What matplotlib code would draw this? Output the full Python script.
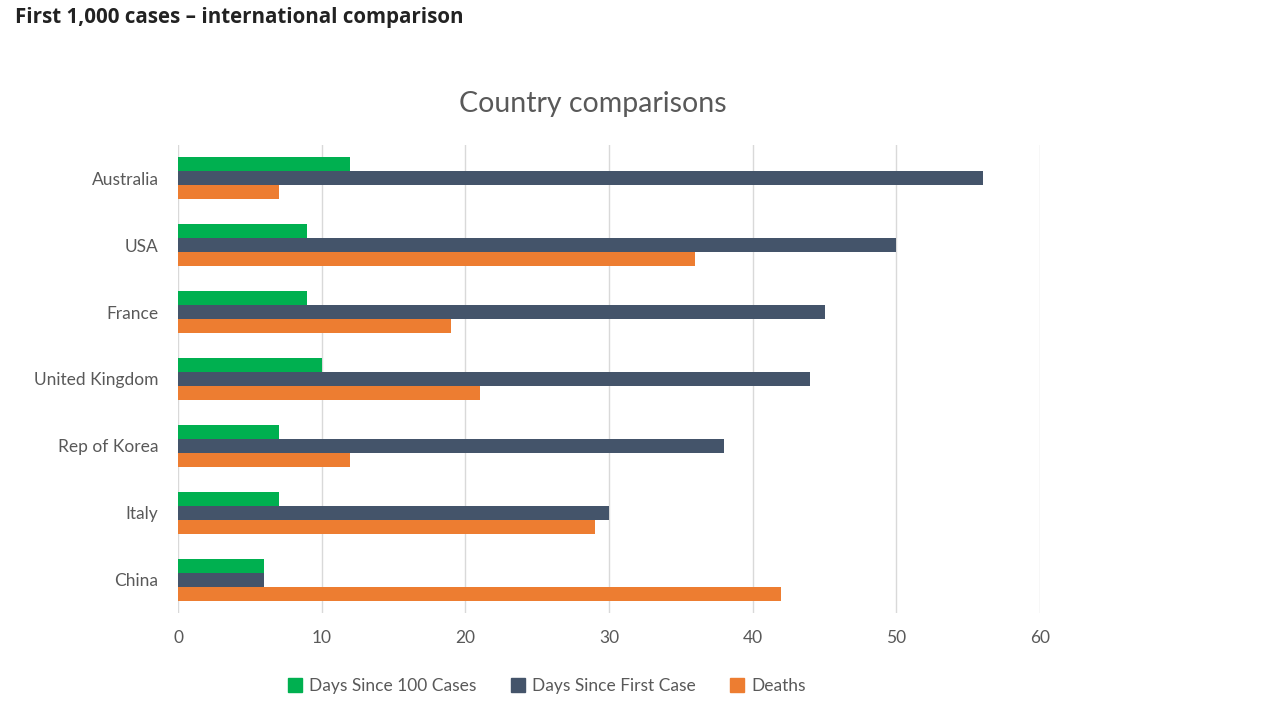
import matplotlib
matplotlib.use("Agg")
import matplotlib.pyplot as plt
import numpy as np
from matplotlib.patches import Patch

countries = ["China", "Italy", "Rep of Korea", "United Kingdom", "France", "USA", "Australia"]
days_since_100 = [6, 7, 7, 10, 9, 9, 12]
days_since_first = [6, 30, 38, 44, 45, 50, 56]
deaths = [42, 29, 12, 21, 19, 36, 7]
series_names = ["Days Since 100 Cases", "Days Since First Case", "Deaths"]
colors = ["#00B050", "#44546A", "#ED7D31"]
xticks = [0, 10, 20, 30, 40, 50, 60]

plt.rcParams['font.family'] = ['Lato', 'DejaVu Sans']

fig = plt.figure(figsize=(12.8, 7.2), dpi=100)
ax = fig.add_axes([178/1280, 1 - 613/720, (1040-178)/1280, (613-145)/720])

y = np.arange(len(countries))
h = 0.21
ax.barh(y + h, days_since_100, height=h, color=colors[0], label=series_names[0], zorder=3)
ax.barh(y, days_since_first, height=h, color=colors[1], label=series_names[1], zorder=3)
ax.barh(y - h, deaths, height=h, color=colors[2], label=series_names[2], zorder=3)

ax.set_xlim(0, 60)
ax.set_ylim(-0.5, 6.5)
ax.set_xticks(xticks)
ax.set_yticks(y)
ax.set_yticklabels(countries)
ax.tick_params(axis='both', length=0, labelsize=12.5, colors="#595959")
ax.tick_params(axis='y', pad=14)
ax.tick_params(axis='x', pad=12)
ax.xaxis.grid(True, color="#D9D9D9", linewidth=1, zorder=0)
for s in ax.spines.values():
    s.set_visible(False)

fig.text(593/1280, 1 - 104/720, "Country comparisons", ha="center", va="center",
         fontsize=20.5, color="#595959")
fig.text(15/1280, 1 - 17/720, "First 1,000 cases \u2013 international comparison",
         ha="left", va="center", fontsize=14.8, fontweight="bold", color="#222222",
         family=["Open Sans", "DejaVu Sans"])

handles = [Patch(color=c) for c in colors]
fig.legend(handles, series_names, loc="center", bbox_to_anchor=(547/1280, 1 - 686/720),
           ncol=3, frameon=False, fontsize=12.5, labelcolor="#595959",
           handlelength=0.8, handleheight=0.8, handletextpad=0.4, columnspacing=2.0)

fig.savefig("out.png", dpi=100)
